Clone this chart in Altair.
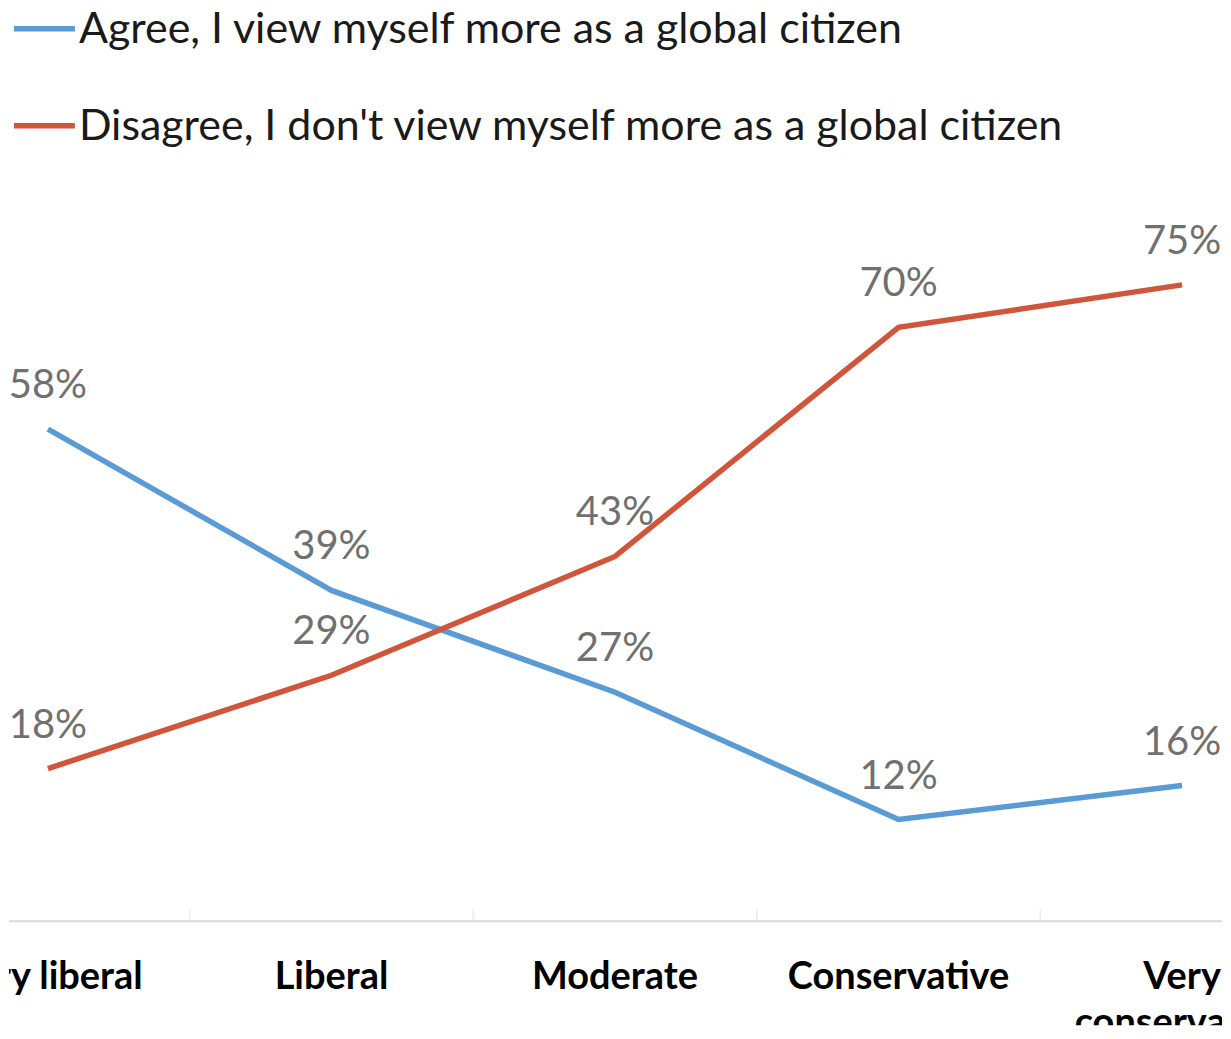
import altair as alt
import pandas as pd

categories = ["Very liberal", "Liberal", "Moderate", "Conservative", "Very conservative"]
series_names = [
    "Agree, I view myself more as a global citizen",
    "Disagree, I don't view myself more as a global citizen",
]
agree = [58, 39, 27, 12, 16]
disagree = [18, 29, 43, 70, 75]
colors = ["#5B9BD5", "#D0553A"]

rows = []
for i, (c, a, d) in enumerate(zip(categories, agree, disagree)):
    rows.append({"idx": i, "series": series_names[0], "value": a, "label": str(a) + "%"})
    rows.append({"idx": i, "series": series_names[1], "value": d, "label": str(d) + "%"})
df = pd.DataFrame(rows)

# category names; long ones wrapped onto a second line
first_lines, second_lines = [], []
for i, c in enumerate(categories):
    if len(c) > 14:
        a, b = c.split(" ", 1)
        first_lines.append({"idx": i, "text": a, "zero": 0})
        second_lines.append({"idx": i, "text": b, "zero": 0})
    else:
        first_lines.append({"idx": i, "text": c, "zero": 0})
line1_df = pd.DataFrame(first_lines)
line2_df = pd.DataFrame(second_lines)

# category boundaries (between-tick-marks style axis)
bounds_df = pd.DataFrame({"b": [i - 0.5 for i in range(len(categories) + 1)],
                          "mid": [0.7] * (len(categories) + 1)})
base_df = pd.DataFrame({"zero": [0]})

FONT = "Lato"

xscale = alt.Scale(domain=[-0.13732, 4.14085], nice=False, zero=False)
yscale = alt.Scale(domain=[-12.235, 107.176], nice=False, zero=False)
cscale = alt.Scale(domain=series_names, range=colors)

baseline = alt.Chart(base_df).mark_rule(color="#D9D9D9", strokeWidth=2).encode(
    y=alt.Y("zero:Q", scale=yscale, axis=None),
)

ticks = alt.Chart(bounds_df).mark_tick(
    color="#E3E3E3", thickness=1.5, size=12, orient="vertical", clip=True
).encode(
    x=alt.X("b:Q", scale=xscale, axis=None),
    y=alt.Y("mid:Q", scale=yscale, axis=None),
)

lines = alt.Chart(df).mark_line(strokeWidth=5.5).encode(
    x=alt.X("idx:Q", scale=xscale, axis=None),
    y=alt.Y("value:Q", scale=yscale, axis=None),
    color=alt.Color("series:N", scale=cscale, legend=None),
)

labels = alt.Chart(df).mark_text(
    font=FONT, fontSize=40, color="#707070", dy=-23, baseline="bottom", align="center"
).encode(
    x=alt.X("idx:Q", scale=xscale),
    y=alt.Y("value:Q", scale=yscale),
    text="label:N",
)

cat_line1 = alt.Chart(line1_df).mark_text(
    font=FONT, fontSize=38, fontWeight="bold", color="#000000", dy=38,
    baseline="top", align="center", clip=True,
).encode(
    x=alt.X("idx:Q", scale=xscale),
    y=alt.Y("zero:Q", scale=yscale),
    text="text:N",
)

cat_line2 = alt.Chart(line2_df).mark_text(
    font=FONT, fontSize=38, fontWeight="bold", color="#000000", dy=84,
    baseline="top", align="center", clip=True,
).encode(
    x=alt.X("idx:Q", scale=xscale),
    y=alt.Y("zero:Q", scale=yscale),
    text="text:N",
)

# legend drawn as marks at the top of the chart
legend_layers = []
for k, name in enumerate(series_names):
    ldf = pd.DataFrame({"series": [name]})
    sym = alt.Chart(ldf).mark_rule(strokeWidth=5.5).encode(
        x=alt.value(5), x2=alt.value(66), y=alt.value(17 + 97 * k),
        color=alt.Color("series:N", scale=cscale, legend=None),
    )
    txt = alt.Chart(ldf).mark_text(
        font=FONT, fontSize=43, color="#1a1a1a", align="left", baseline="middle"
    ).encode(
        x=alt.value(70), y=alt.value(18 + 97 * k), text="series:N",
    )
    legend_layers += [sym, txt]

chart = alt.layer(baseline, ticks, lines, labels, cat_line1, cat_line2, *legend_layers).properties(
    width=1215, height=1015, padding=0,
).configure_view(strokeWidth=0)

chart.save("out.html", embed_options={"renderer": "svg", "actions": False})
